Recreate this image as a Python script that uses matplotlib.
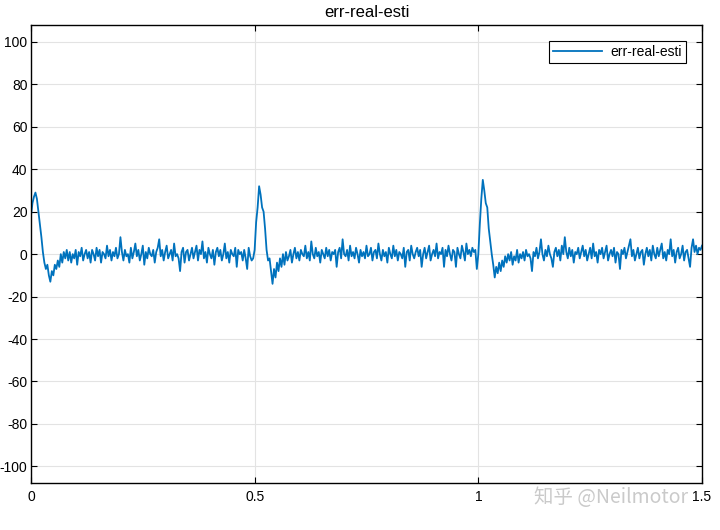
import numpy as np
import matplotlib
matplotlib.use("Agg")
import matplotlib.pyplot as plt

# error signal read off the plot, sampled every 1/300 s from 0 to 1.5 s
# start spike + settling
err_start = [18, 24, 27, 29, 26, 20, 14, 8, 1, -4, -7, -5, -10, -13, -8, -10, -5, -7, -3, -6, 0, -4, 1, -2, 2]
# noise 0.08 - 0.5
err_seg1 = [-3, 1, -4, 0, -2, 2, -5, 1, -1, 3, -3, 0, 2, -2, 1, -4, 2, 0, -3, 3, -1, 2, -4, 1, 0,
            -2, 4, -1, 2, -3, 1, -1, 3, -2, 0, 8, 1, -3, 2, -1, 0, -4, 3, -2, 1, 5, -1, 2, -3, 0,
            4, -5, 1, -2, 3, 0, -1, 2, -4, 1, 3, 7, -1, 2, -3, 1, 4, -2, 0, 2, -3, 5, -1, 0, -2,
            -8, 1, 3, -4, 1, 2, -3, 0, 3, -2, 1, 4, -3, 2, 0, 6, -2, 1, -4, 3, 0, -2, 2, -5, 1,
            3, -1, 2, -3, 0, 5, -2, 1, -4, 2, 0, -1, 3, -6, 2, 0, 1, -3, 2, -2, -7, 3, -1, -3, -2]
# spike at 0.5
err_spike2 = [2, 15, 22, 32, 28, 22, 20, 12, 2, -3, -2, -8, -14, -7, -11, -4, -8, -2, -6, 0, -5, 1, -3]
# noise 0.58 - 1.0
err_seg2 = [-1, 2, -4, 0, 3, -2, 1, -3, 2, 0, -1, 4, -2, 1, -3, 6, 0, -2, 3, -1, 1, -4, 2, 0, -2,
            3, -1, 2, -3, 1, 0, 2, -6, 1, 3, -2, 7, 0, -1, 2, -3, 4, -1, 1, -2, 3, 0, -4, 2, -1,
            1, -2, 4, -1, 0, 3, -3, 1, 2, -2, 5, 0, -3, 2, -1, 1, -4, 3, 0, -2, 4, -1, 2, -3, 1,
            0, -2, 3, -6, 1, 2, -3, 4, 0, -2, 1, 3, -1, 2, -6, 0, 3, -2, 1, 4, -3, 0, 2, -1, 5,
            -2, 1, 0, 3, -6, 2, -1, 4, 0, -3, 2, 1, -6, 3, 0, -2, 4, 1, -3, 5, 0, 2, -1, 3, 1]
# spike at 1.0
err_spike3 = [2, -7, 0, 14, 26, 35, 30, 24, 22, 12, 6, 0, -5, -11, -6, -9, -4, -8, -3, -6, -1]
# noise 1.06 - 1.5
err_seg3 = [-4, 0, -3, 1, -5, -1, -3, 2, -4, 0, -2, 1, -3, 2, -1, 0, -2, -8, 1, -1, 3, -2, 1, 7, 0, -3,
            2, -1, 4, 0, -2, -6, 1, 3, -1, 2, -3, 4, 0, 8, 1, -2, 3, -1, 2, -4, 1, 0, 3, -2, 1,
            4, -1, 2, -3, 0, 3, -2, 5, -1, 1, -4, 2, 0, 3, -2, 1, 4, -3, 0, 2, -1, 3, -4, 1, 0,
            -7, 2, 0, 3, -2, 1, 4, 7, -1, 2, -3, 0, 3, -2, 1, 2, -5, 0, 3, -1, 2, -3, 4, 0, -2,
            3, -1, 2, 5, -2, 1, -3, 2, 0, 7, -1, 2, -4, 1, 3, -2, 0, 4, -3, 1, 2, -2, -6, 3, 7, 1, 4, 0, 3, 2, 4]

err = np.array(err_start + err_seg1 + err_spike2 + err_seg2 + err_spike3 + err_seg3, dtype=float)
t = np.linspace(0, 1.5, len(err))

xticks = [0, 0.5, 1, 1.5]
xticklabels = ['0', '0.5', '1', '1.5']
yticks = np.arange(-100, 101, 20)

plt.rcParams['font.family'] = ['Liberation Sans', 'DejaVu Sans']
plt.rcParams['axes.unicode_minus'] = False

fig = plt.figure(figsize=(7.2, 5.3), dpi=100)
ax = fig.add_axes([0.043, 0.088, 0.932, 0.865])

ax.plot(t, err, color='#0072BD', lw=1.3, label='err-real-esti')

ax.set_xlim(0, 1.5)
ax.set_ylim(-108, 108)
ax.set_xticks(xticks)
ax.set_xticklabels(xticklabels)
ax.set_yticks(yticks)
ax.tick_params(direction='in', top=True, right=True, labelsize=10, length=4, width=0.8)
ax.tick_params(axis='y', pad=2.5)
ax.tick_params(axis='x', pad=5)
ax.grid(True, color='#e3e3e3', lw=0.8)
ax.set_axisbelow(True)
for s in ax.spines.values():
    s.set_linewidth(1.0)
    s.set_color('black')

ax.set_title('err-real-esti', fontsize=12, pad=6)

leg = ax.legend(loc='upper right', fontsize=10, fancybox=False, framealpha=1,
                edgecolor='black', handlelength=3.5, handletextpad=0.6,
                borderpad=0.3, borderaxespad=1.15)
leg.get_frame().set_linewidth(0.8)

# watermark
fig.text(0.742, 0.062, '知乎 @Neilmotor', color='#cacaca', fontsize=14,
         family=['Noto Sans CJK SC', 'DejaVu Sans'], va='center')

fig.savefig('out.png', dpi=100)
